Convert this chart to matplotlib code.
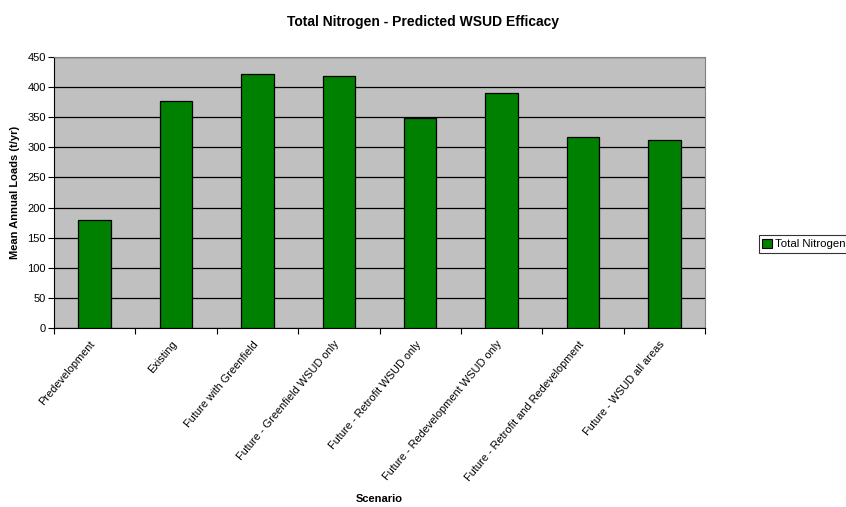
import matplotlib
matplotlib.use("Agg")
import matplotlib.pyplot as plt
import matplotlib.transforms as mtransforms
from matplotlib.patches import Patch

plt.rcParams['font.family'] = ['Liberation Sans', 'DejaVu Sans']

scenarios = [
    "Predevelopment",
    "Existing",
    "Future with Greenfield",
    "Future - Greenfield WSUD only",
    "Future - Retrofit WSUD only",
    "Future - Redevelopment WSUD only",
    "Future - Retrofit and Redevelopment",
    "Future - WSUD all areas",
]
loads = [179, 377, 422, 419, 348, 390, 317, 313]
series_name = "Total Nitrogen"
yticks = list(range(0, 451, 50))

fig = plt.figure(figsize=(8.46, 5.07), dpi=100)
ax = fig.add_axes([54 / 846, 1 - 328 / 507, (705 - 54) / 846, (328 - 57) / 507])
ax.set_facecolor("#C0C0C0")

x = list(range(len(scenarios)))
ax.bar(x, loads, width=0.4, color="#008000", edgecolor="black", linewidth=0.9, zorder=3)

ax.set_xlim(-0.5, len(scenarios) - 0.5)
ax.set_ylim(0, 450)
ax.set_yticks(yticks)
ax.yaxis.grid(True, color="black", linewidth=0.9, zorder=1)
ax.set_axisbelow(True)

ax.set_xticks([i - 0.5 for i in range(len(scenarios) + 1)], minor=False)
ax.set_xticklabels([])
ax.set_xticks(x, minor=True)
ax.set_xticklabels(scenarios, minor=True, rotation=50, ha="right", va="top",
                   rotation_mode="anchor", fontsize=7.9)
ax.tick_params(axis="x", which="minor", length=0, pad=8)
ax.tick_params(axis="x", which="major", length=4, direction="out", width=0.8)
ax.tick_params(axis="y", length=4, direction="out", width=0.8, labelsize=8, pad=2)
shift = mtransforms.ScaledTranslation(-5 / 100, 0, fig.dpi_scale_trans)
for lbl in ax.get_xticklabels(minor=True):
    lbl.set_transform(lbl.get_transform() + shift)

for side in ("top", "right"):
    ax.spines[side].set_color("#808080")
ax.spines["left"].set_color("black")
ax.spines["bottom"].set_color("black")

ax.set_ylabel("Mean Annual Loads (t/yr)", fontsize=8, fontweight="bold", labelpad=5)
fig.text(379.5 / 846, 1 - 499 / 507, "Scenario", ha="center", va="center",
         fontsize=8, fontweight="bold")
fig.text(423 / 846, 1 - 22 / 507, "Total Nitrogen - Predicted WSUD Efficacy",
         ha="center", va="center", fontsize=10, fontweight="bold")

handle = Patch(facecolor="#008000", edgecolor="black", linewidth=0.8)
leg = fig.legend([handle], [series_name], loc="center left",
                 bbox_to_anchor=(759 / 846, 1 - 244 / 507), fontsize=8.2,
                 frameon=True, fancybox=False, edgecolor="black",
                 handlelength=0.8, handleheight=0.8, handletextpad=0.3,
                 borderpad=0.3, borderaxespad=0)
leg.get_frame().set_linewidth(0.8)

fig.savefig("out.png", dpi=100)
